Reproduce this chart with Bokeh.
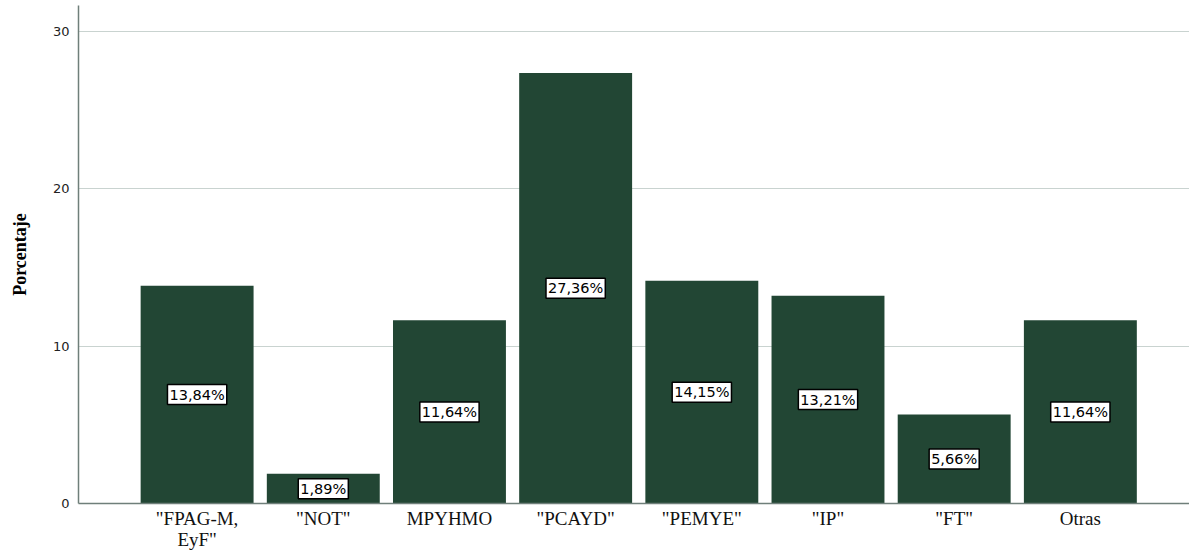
from bokeh.plotting import figure
from bokeh.models import Range1d, ColumnDataSource, Label, FixedTicker
from bokeh.embed import file_html
from bokeh.resources import INLINE

categories = ['"FPAG-M,\nEyF"', '"NOT"', 'MPYHMO', '"PCAYD"', '"PEMYE"', '"IP"', '"FT"', 'Otras']
values = [13.84, 1.89, 11.64, 27.36, 14.15, 13.21, 5.66, 11.64]
labels = ["13,84%", "1,89%", "11,64%", "27,36%", "14,15%", "13,21%", "5,66%", "11,64%"]
y_ticks = [0, 10, 20, 30]

xs = list(range(len(categories)))
src = ColumnDataSource(dict(x=xs, top=values))

p = figure(width=1189, height=552, output_backend="svg", toolbar_location=None,
           x_range=Range1d(-0.94, 7.865), y_range=Range1d(0, 31.65),
           min_border_left=78, min_border_right=0, min_border_top=5, min_border_bottom=41)
p.outline_line_color = None
p.background_fill_color = "white"

p.vbar(x="x", top="top", width=0.895, bottom=0, source=src,
       fill_color="#224634", line_color=None)

for xi, v, lab in zip(xs, values, labels):
    p.add_layout(Label(x=xi, y=v / 2, text=lab, text_align="center",
                       text_baseline="middle", text_font="DejaVu Sans", text_font_size="14.5px",
                       text_color="black", background_fill_color="white",
                       border_line_color="black", border_line_width=1.5, padding=2))

p.xgrid.grid_line_color = None
p.ygrid.grid_line_color = "#c9d3d0"
p.ygrid.grid_line_width = 1

p.yaxis.ticker = FixedTicker(ticks=y_ticks)
p.xaxis.ticker = FixedTicker(ticks=xs)
p.xaxis.major_label_overrides = {i: c for i, c in enumerate(categories)}

for ax in (p.xaxis, p.yaxis):
    ax.axis_line_color = "#6f7f7a"
    ax.axis_line_width = 1.5
    ax.major_tick_line_color = None
    ax.minor_tick_line_color = None
    ax.major_tick_out = 0
    ax.major_tick_in = 0

p.yaxis.major_label_text_font = "DejaVu Sans"
p.yaxis.major_label_text_font_size = "13px"
p.yaxis.major_label_text_color = "#222222"
p.yaxis.major_label_standoff = 9
p.yaxis.axis_label = "Porcentaje"
p.yaxis.axis_label_text_font = "Liberation Serif"
p.yaxis.axis_label_text_font_style = "bold"
p.yaxis.axis_label_text_font_size = "18px"
p.yaxis.axis_label_text_color = "black"
p.yaxis.axis_label_standoff = 20

p.xaxis.major_label_text_font = "Liberation Serif"
p.xaxis.major_label_text_font_size = "19px"
p.xaxis.major_label_text_color = "#111111"
p.xaxis.major_label_standoff = 4
p.xaxis.major_label_text_line_height = 1.0

open("out.html", "w").write(file_html(p, INLINE))
